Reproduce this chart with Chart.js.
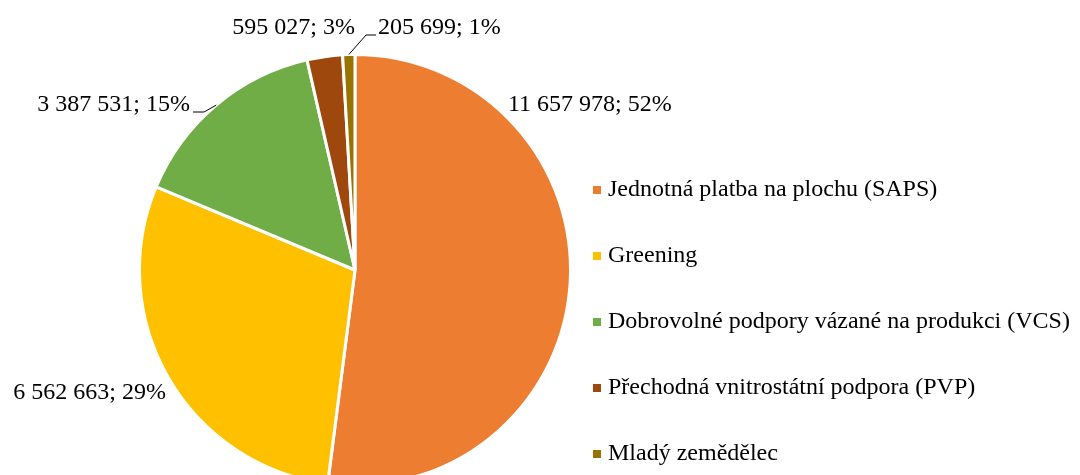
<!DOCTYPE html>
<html>
<head>
<meta charset="utf-8">
<script src="https://cdn.jsdelivr.net/npm/chart.js@4/dist/chart.umd.min.js"></script>
<style>
  html, body { margin: 0; padding: 0; background: #fff; height: 475px; overflow: hidden; }
  #wrap { position: relative; width: 1080px; height: 500px; }
</style>
</head>
<body>
<div id="wrap"><canvas id="pieChart"></canvas></div>
<script>
const categories = [
    "Jednotná platba na plochu (SAPS)",
    "Greening",
    "Dobrovolné podpory vázané na produkci (VCS)",
    "Přechodná vnitrostátní podpora (PVP)",
    "Mladý zemědělec"
];
const amounts = [11657978, 6562663, 3387531, 595027, 205699];
const colors = ["#ED7D31", "#FFC000", "#70AD47", "#9E480E", "#997300"];

const FONT = "24px 'Liberation Serif', 'Times New Roman', serif";

// where each data label sits (x, y = text middle), align and leader line side
const labelLayout = [
    { x: 508, y: 105, align: "left", leader: false },
    { x: 166, y: 393, align: "right", leader: false },
    { x: 190, y: 105, align: "right", leader: true },
    { x: 355, y: 28, align: "right", leader: false },
    { x: 378, y: 28, align: "left", leader: true }
];

function fmt(n) {
    return String(n).replace(/\B(?=(\d{3})+(?!\d))/g, " ");
}

const dataLabels = {
    id: "dataLabels",
    afterDatasetsDraw(chart) {
        let ctx = chart.ctx;
        let meta = chart.getDatasetMeta(0);
        let values = chart.data.datasets[0].data;
        let total = values.reduce((a, b) => a + b, 0);
        ctx.save();
        ctx.font = FONT;
        ctx.fillStyle = "#000";
        ctx.textBaseline = "middle";
        meta.data.forEach((arc, i) => {
            let pos = labelLayout[i];
            let text = fmt(values[i]) + "; " + Math.round(values[i] / total * 100) + "%";
            ctx.textAlign = pos.align;
            ctx.fillText(text, pos.x, pos.y);
            if (pos.leader) {
                let p = arc.getProps(["x", "y", "startAngle", "endAngle", "outerRadius"], true);
                let mid = (p.startAngle + p.endAngle) / 2;
                let ax = p.x + Math.cos(mid) * p.outerRadius;
                let ay = p.y + Math.sin(mid) * p.outerRadius;
                let ly = pos.y + 7;
                let ex = pos.align === "right" ? pos.x + 3 : pos.x - 2;
                let kx = pos.align === "right" ? ex + 11 : ex - 10;
                ctx.beginPath();
                ctx.strokeStyle = "#000";
                ctx.lineWidth = 1;
                ctx.moveTo(ax, ay);
                ctx.lineTo(kx, ly);
                ctx.lineTo(ex, ly);
                ctx.stroke();
            }
        });
        ctx.restore();
    }
};

const sideLegend = {
    id: "sideLegend",
    afterDraw(chart) {
        let ctx = chart.ctx;
        ctx.save();
        ctx.font = FONT;
        ctx.textAlign = "left";
        ctx.textBaseline = "middle";
        chart.data.labels.forEach((label, i) => {
            let y = 190 + i * 66;
            ctx.fillStyle = chart.data.datasets[0].backgroundColor[i];
            ctx.fillRect(593, y - 4, 8, 8);
            ctx.fillStyle = "#000";
            ctx.fillText(label, 608, y);
        });
        ctx.restore();
    }
};

new Chart(document.getElementById("pieChart"), {
    type: "pie",
    data: {
        labels: categories,
        datasets: [{
            data: amounts,
            backgroundColor: colors,
            borderColor: "#fff",
            borderWidth: 3
        }]
    },
    options: {
        responsive: true,
        maintainAspectRatio: false,
        animation: false,
        layout: { padding: { left: 138, right: 508, top: 53, bottom: 13 } },
        plugins: {
            legend: { display: false },
            tooltip: { enabled: false }
        }
    },
    plugins: [dataLabels, sideLegend]
});
</script>
</body>
</html>
